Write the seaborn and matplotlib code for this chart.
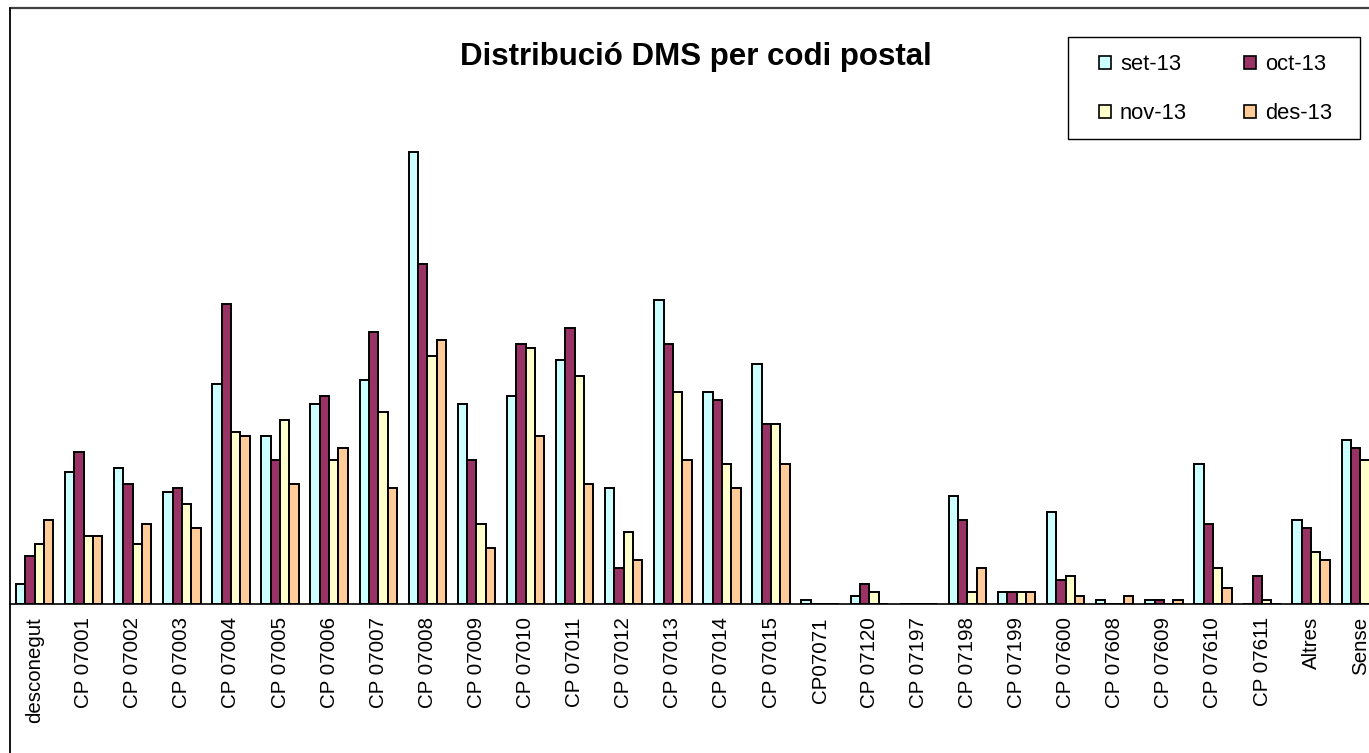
import matplotlib
matplotlib.use("Agg")
import matplotlib.pyplot as plt
from matplotlib.lines import Line2D
from matplotlib.patches import Patch, Rectangle
import seaborn as sns
import pandas as pd

categories = ["desconegut", "CP 07001", "CP 07002", "CP 07003", "CP 07004", "CP 07005",
              "CP 07006", "CP 07007", "CP 07008", "CP 07009", "CP 07010", "CP 07011",
              "CP 07012", "CP 07013", "CP 07014", "CP 07015", "CP07071", "CP 07120",
              "CP 07197", "CP 07198", "CP 07199", "CP 07600", "CP 07608", "CP 07609",
              "CP 07610", "CP 07611", "Altres", "Sense"]
months = ["set-13", "oct-13", "nov-13", "des-13"]
set13 = [5, 33, 34, 28, 55, 42, 50, 56, 113, 50, 52, 61, 29, 76, 53, 60, 1, 2, 0, 27, 3, 23, 1, 1, 35, 0, 21, 41]
oct13 = [12, 38, 30, 29, 75, 36, 52, 68, 85, 36, 65, 69, 9, 65, 51, 45, 0, 5, 0, 21, 3, 6, 0, 1, 20, 7, 19, 39]
nov13 = [15, 17, 15, 25, 43, 46, 36, 48, 62, 20, 64, 57, 18, 53, 35, 45, 0, 3, 0, 3, 3, 7, 0, 0, 9, 1, 13, 36]
des13 = [21, 17, 20, 19, 42, 30, 39, 29, 66, 14, 42, 30, 11, 36, 29, 35, 0, 0, 0, 9, 3, 2, 2, 1, 4, 0, 11, 34]
colors = ["#CCFFFF", "#993366", "#FFFFCC", "#FFCC99"]
title = "Distribució DMS per codi postal"

rows = []
for m, vals in zip(months, [set13, oct13, nov13, des13]):
    for c, v in zip(categories, vals):
        rows.append({"cat": c, "month": m, "val": v})
df = pd.DataFrame(rows)

sns.set_style("white")
plt.rcParams["font.family"] = ["Liberation Sans", "DejaVu Sans"]
plt.rcParams["text.color"] = "black"
plt.rcParams["xtick.color"] = "black"
plt.rcParams["xtick.labelcolor"] = "black"

W, H = 1369, 753
fig = plt.figure(figsize=(W / 100, H / 100), dpi=100)
fig.patch.set_facecolor("white")

left_px, base_px, top_px = 10, 604, 8
group_px = 49.1
ax = fig.add_axes([left_px / W, 1 - base_px / H, len(categories) * group_px / W, (base_px - top_px) / H])
ax.set_facecolor("none")

sns.barplot(data=df, x="cat", y="val", hue="month", order=categories, hue_order=months,
            palette=colors, width=0.76, edgecolor="black", linewidth=1.4,
            saturation=1, legend=False, ax=ax, errorbar=None)

ax.set_xlim(-0.5, len(categories) - 0.5)
ax.set_ylim(0, (base_px - top_px) / 4.0)
ax.set_xlabel("")
ax.set_ylabel("")
ax.set_yticks([])
for s in ["top", "right", "left"]:
    ax.spines[s].set_visible(False)
ax.spines["bottom"].set_color("black")
ax.spines["bottom"].set_linewidth(1.2)

ax.set_xticks(range(len(categories)))
ax.set_xticklabels(categories, rotation=90, fontsize=14.8, color="black")
ax.tick_params(axis="x", which="major", length=0, pad=9.5)
ax.set_xticks([i - 0.5 for i in range(len(categories) + 1)], minor=True)
ax.tick_params(axis="x", which="minor", length=4, width=1, color="#404040", direction="out")

# chart-area border lines (top and left)
fig.add_artist(Line2D([left_px / W, 1.0], [1 - top_px / H, 1 - top_px / H],
                      transform=fig.transFigure, color="#404040", lw=1.6))
fig.add_artist(Line2D([left_px / W, left_px / W], [0, 1 - top_px / H],
                      transform=fig.transFigure, color="black", lw=1.3))

fig.text(696 / W, 1 - 65 / H, title, ha="center", va="baseline",
         fontsize=22.5, fontweight="bold", color="black")

# legend: box drawn as a rectangle, entries placed with the legend machinery
fig.add_artist(Rectangle((1068 / W, 1 - 139 / H), (1360 - 1068) / W, (139 - 37) / H,
                         transform=fig.transFigure, facecolor="white", edgecolor="black",
                         linewidth=1.0, zorder=4))
order = [0, 2, 1, 3]  # column-wise filling -> rows: set/oct, nov/des
handles = [Patch(facecolor=colors[i], edgecolor="black", linewidth=1.2, label=months[i]) for i in order]
leg = fig.legend(handles=handles, ncol=2, loc="upper left",
                 bbox_to_anchor=(1099 / W, 1 - 54 / H), fontsize=15.8,
                 frameon=False, handlelength=0.55, handleheight=0.55, handletextpad=0.4,
                 columnspacing=2.6, labelspacing=1.29, borderpad=0, borderaxespad=0)
leg.set_zorder(5)

fig.savefig("out.png", dpi=100)
